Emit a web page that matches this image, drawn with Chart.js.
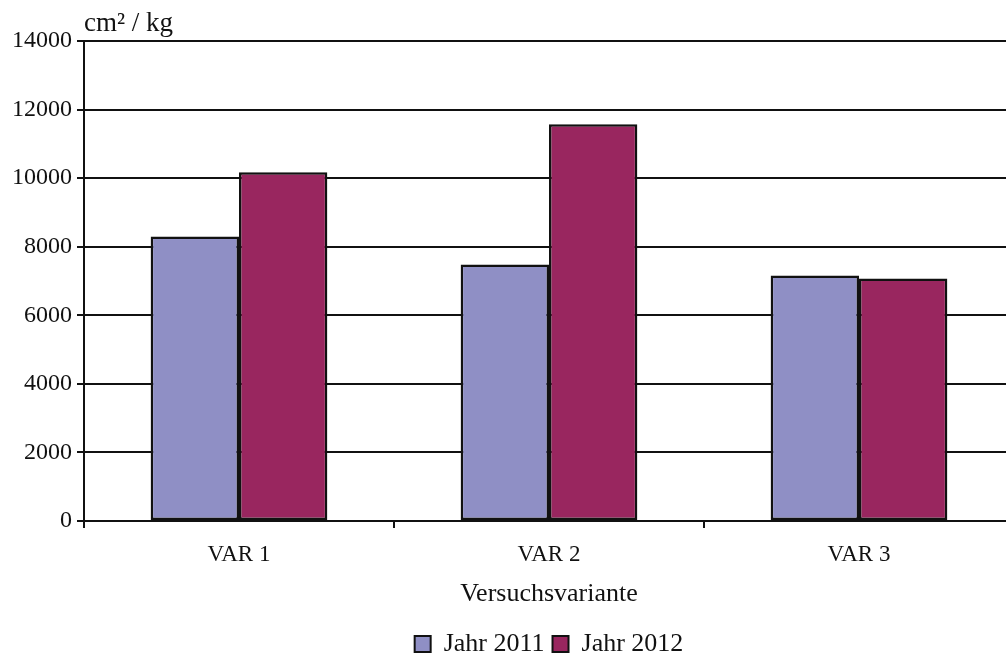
<!DOCTYPE html>
<html>
<head>
<meta charset="utf-8">
<script src="https://cdn.jsdelivr.net/npm/chart.js@4/dist/chart.umd.min.js"></script>
<style>
  html, body { margin: 0; padding: 0; background: #fff; overflow: hidden; }
  #wrap { width: 1006px; height: 657px; overflow: hidden; position: relative; }
  canvas { display: block; }
</style>
</head>
<body>
<div id="wrap"><canvas id="c" width="1014" height="667"></canvas></div>
<script>
// Leaf area per kg by trial variant and year
const categories = ['VAR 1', 'VAR 2', 'VAR 3'];
const seriesNames = ['Jahr 2011', 'Jahr 2012'];
const values2011 = [8300, 7480, 7160];
const values2012 = [10170, 11570, 7070];
const yTicks = [0, 2000, 4000, 6000, 8000, 10000, 12000, 14000];
const unitLabel = 'cm² / kg';
const axisTitle = 'Versuchsvariante';

const FONT = "'Liberation Serif', 'DejaVu Serif', serif";
const INK = '#111111';

new Chart(document.getElementById('c'), {
  type: 'bar',
  data: {
    labels: categories,
    datasets: [
      {
        label: seriesNames[0],
        data: values2011,
        backgroundColor: '#8f8fc5',
        borderColor: '#111111',
        borderWidth: 2.5,
        borderSkipped: false
      },
      {
        label: seriesNames[1],
        data: values2012,
        backgroundColor: '#99265f',
        borderColor: '#111111',
        borderWidth: 2.5,
        borderSkipped: false
      }
    ]
  },
  options: {
    responsive: false,
    animation: false,
    devicePixelRatio: 1,
    layout: { padding: { left: 0, right: 0, top: 0, bottom: 0 } },
    datasets: { bar: { categoryPercentage: 0.57, barPercentage: 1.0 } },
    plugins: {
      tooltip: { enabled: false },
      title: {
        display: true,
        text: unitLabel,
        align: 'start',
        fullSize: false,
        color: INK,
        font: { family: FONT, size: 27, weight: 'normal' },
        padding: { top: 8, bottom: 0.6 }
      },
      legend: {
        display: true,
        position: 'bottom',
        fullSize: false,
        labels: {
          color: INK,
          font: { family: FONT, size: 26 },
          boxWidth: 16,
          boxHeight: 16,
          padding: 8,
          generateLabels(chart) {
            return chart.data.datasets.map((ds, i) => ({
              text: ds.label,
              fillStyle: ds.backgroundColor,
              strokeStyle: '#111111',
              lineWidth: 2,
              hidden: false,
              datasetIndex: i,
              fontColor: INK
            }));
          }
        }
      }
    },
    scales: {
      x: {
        offset: true,
        grid: {
          offset: true,
          drawOnChartArea: false,
          drawTicks: true,
          tickLength: 7,
          color: '#111111',
          lineWidth: 2
        },
        border: { display: true, color: '#111111', width: 2 },
        ticks: {
          color: INK,
          font: { family: FONT, size: 23 },
          padding: 13,
          maxRotation: 0
        },
        title: {
          display: true,
          text: axisTitle,
          color: INK,
          font: { family: FONT, size: 26 },
          padding: { top: 4, bottom: 13.4 }
        },
        afterFit(scale) { scale.height = 102; }
      },
      y: {
        min: 0,
        max: 14000,
        afterBuildTicks(scale) { scale.ticks = yTicks.map(v => ({ value: v })); },
        grid: {
          drawOnChartArea: true,
          drawTicks: true,
          tickLength: 7,
          color: '#111111',
          lineWidth: 2
        },
        border: { display: true, color: '#111111', width: 2 },
        ticks: {
          color: INK,
          font: { family: FONT, size: 24 },
          padding: 5,
          callback: v => String(v)
        },
        afterFit(scale) { scale.width = 84; }
      }
    }
  }
});
</script>
</body>
</html>
